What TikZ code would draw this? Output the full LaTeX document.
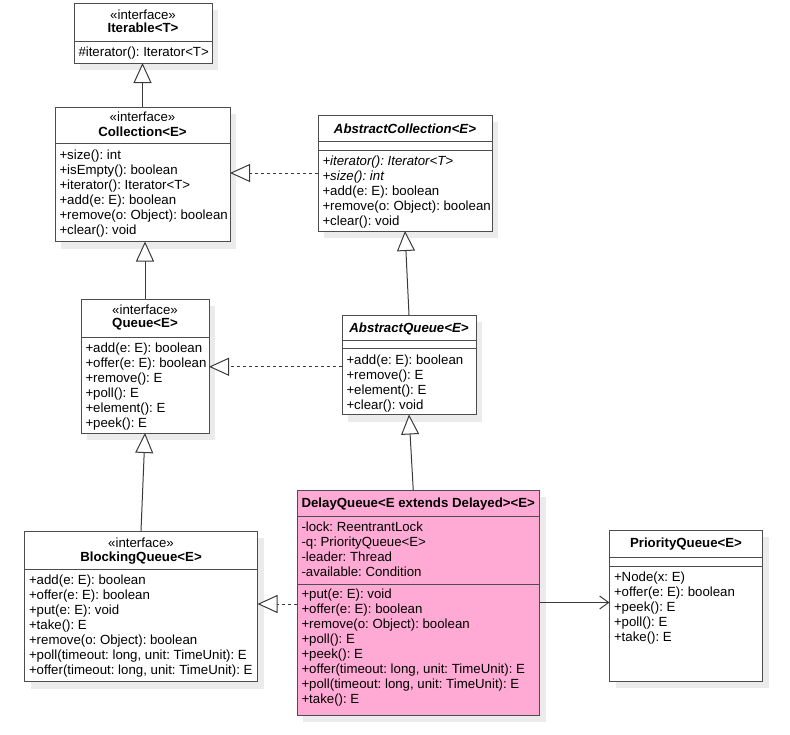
\documentclass[tikz,border=0pt]{standalone}
\usepackage{fontspec}
\setmainfont{Liberation Sans}
\frenchspacing
\usetikzlibrary{arrows.meta,shadows,calc}
\definecolor{pinkfill}{HTML}{FFAAD4}
\definecolor{edgecol}{HTML}{4D4D4D}
\definecolor{linecol}{HTML}{3A3A3A}
\newcommand{\umlmembers}[4]{%
  \foreach \mtext [count=\midx from 0] in {#4}
    \node[member] (#1-\midx) at ({#2+2},{#3+15*\midx}) {\mtext};}
\begin{document}
\begin{tikzpicture}[x=1pt,y=-1pt,
  umlbox/.style={draw=edgecol, fill=white, line width=1pt, inner sep=0pt, outer sep=0pt, anchor=north west,
    general shadow={fill=black!8, shadow xshift=6pt, shadow yshift=-7pt}},
  member/.style={anchor=base west, inner sep=0pt, outer sep=0pt, font=\fontsize{13.25pt}{15pt}\selectfont\frenchspacing},
  stereo/.style={anchor=base, inner sep=0pt, outer sep=0pt, font=\fontsize{13.25pt}{15pt}\selectfont},
  title/.style={anchor=base, inner sep=0pt, outer sep=0pt, font=\fontsize{13.25pt}{15pt}\selectfont\bfseries\frenchspacing},
  divline/.style={draw=edgecol, line width=1pt},
  gen/.style={draw=linecol, line width=1pt, -{Triangle[open, length=20pt, width=18pt, fill=white]}},
  real/.style={gen, dash pattern=on 3pt off 3pt},
  assoc/.style={draw=linecol, line width=1pt, -{Straight Barb[length=9pt, width=13pt]}}
]
\useasboundingbox (0,0) rectangle (790,734);

% Iterable
\node[umlbox, minimum width=138pt, minimum height=60pt] (iter) at (74,3) {};
\draw[divline] (74,41.5) -- (212,41.5);
\node[stereo] (iter-s) at (143,19.5) {«interface»};
\node[title] (iter-t) at (143,32.5) {Iterable<T>};
\umlmembers{iterm}{76.5}{56.5}{{\#iterator(): Iterator<T>}}

% Collection
\node[umlbox, minimum width=175pt, minimum height=134.5pt] (coll) at (55,107) {};
\draw[divline] (55,143.5) -- (230,143.5);
\node[stereo] (coll-s) at (142.5,121) {«interface»};
\node[title] (coll-t) at (142.5,136) {Collection<E>};
\umlmembers{collm}{57.5}{159.5}{{+size(): int},{+isEmpty(): boolean},{+iterator(): Iterator<T>},{+add(e: E): boolean},{+remove(o: Object): boolean},{+clear(): void}}

% AbstractCollection
\node[umlbox, minimum width=174pt, minimum height=116pt] (acoll) at (318,115) {};
\draw[divline] (318,141) -- (492,141);
\draw[divline] (318,150) -- (492,150);
\node[title] (acoll-t) at (405,133) {\itshape AbstractCollection<E>};
\umlmembers{acollm}{320.5}{165.5}{{\itshape +iterator(): Iterator<T>},{\itshape +size(): int},{+add(e: E): boolean},{+remove(o: Object): boolean},{+clear(): void}}

% Queue
\node[umlbox, minimum width=128pt, minimum height=134pt] (queue) at (81,299) {};
\draw[divline] (81,337) -- (209,337);
\node[stereo] (queue-s) at (145,314.5) {«interface»};
\node[title] (queue-t) at (145,327.8) {Queue<E>};
\umlmembers{queuem}{83.5}{352.8}{{+add(e: E): boolean},{+offer(e: E): boolean},{+remove(): E},{+poll(): E},{+element(): E},{+peek(): E}}

% AbstractQueue
\node[umlbox, minimum width=134pt, minimum height=99.5pt] (aqueue) at (342,315) {};
\draw[divline] (342,340) -- (476,340);
\draw[divline] (342,348.5) -- (476,348.5);
\node[title] (aqueue-t) at (409,332.8) {\itshape AbstractQueue<E>};
\umlmembers{aqueuem}{344.5}{364.5}{{+add(e: E): boolean},{+remove(): E},{+element(): E},{+clear(): void}}

% BlockingQueue
\node[umlbox, minimum width=233pt, minimum height=150.5pt] (bq) at (24.5,531) {};
\draw[divline] (24.5,569.5) -- (257.5,569.5);
\node[stereo] (bq-s) at (141,547.8) {«interface»};
\node[title] (bq-t) at (141,561.2) {BlockingQueue<E>};
\umlmembers{bqm}{27}{584.5}{{+add(e: E): boolean},{+offer(e: E): boolean},{+put(e: E): void},{+take(): E},{+remove(o: Object): boolean},{+poll(timeout: long, unit: TimeUnit): E},{+offer(timeout: long, unit: TimeUnit): E}}

% DelayQueue
\node[umlbox, fill=pinkfill, minimum width=242.5pt, minimum height=225pt] (dq) at (297,490) {};
\draw[divline] (297,516.5) -- (539.5,516.5);
\draw[divline] (297,584) -- (539.5,584);
\node[title] (dq-t) at (418.25,507.8) {DelayQueue<E extends Delayed><E>};
\umlmembers{dqa}{299.5}{531.2}{{-lock: ReentrantLock},{-q: PriorityQueue<E>},{-leader: Thread},{-available: Condition}}
\umlmembers{dqm}{299.5}{598.8}{{+put(e: E): void},{+offer(e: E): boolean},{+remove(o: Object): boolean},{+poll(): E},{+peek(): E},{+offer(timeout: long, unit: TimeUnit): E},{+poll(timeout: long, unit: TimeUnit): E},{+take(): E}}

% PriorityQueue
\node[umlbox, minimum width=153pt, minimum height=151pt] (pq) at (609.5,530) {};
\draw[divline] (609.5,557.5) -- (762.5,557.5);
\draw[divline] (609.5,566) -- (762.5,566);
\node[title] (pq-t) at (686,547.8) {PriorityQueue<E>};
\umlmembers{pqm}{612}{581.2}{{+Node(x: E)},{+offer(e: E): boolean},{+peek(): E},{+poll(): E},{+take(): E}}

% Connectors
\draw[gen] (coll.north) -- (coll.north |- iter.south);
\draw[real] (acoll.west) -- (acoll.west -| coll.east);
\draw[gen] (queue.north) -- (queue.north |- coll.south);
\draw[gen] (aqueue.north) -- (acoll.south);
\draw[real] ([yshift=-2pt]aqueue.west) -- ([yshift=-2pt]aqueue.west -| queue.east);
\draw[gen] (bq.north) -- (queue.south);
\draw[gen] ([xshift=-5pt]dq.north) -- (aqueue.south);
\draw[real] ([yshift=-1.5pt]dq.west) -- ([yshift=-1.5pt]dq.west -| bq.east);
\draw[assoc] (dq.east) -- (dq.east -| pq.west);
\end{tikzpicture}
\end{document}
